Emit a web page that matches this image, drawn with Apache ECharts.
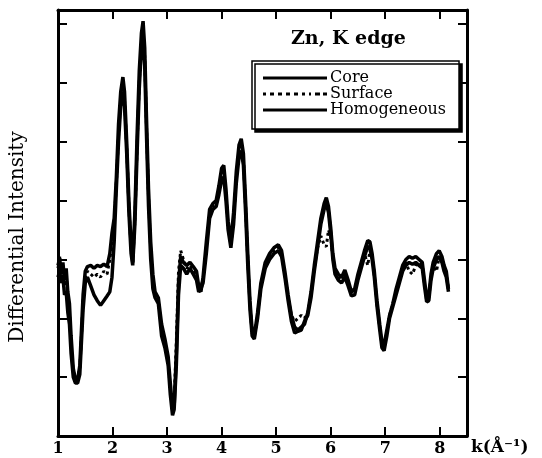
<!DOCTYPE html>
<html><head><meta charset="utf-8">
<script src="https://cdn.jsdelivr.net/npm/echarts@6/dist/echarts.min.js"></script>
<style>html,body{margin:0;padding:0;background:#fff}#c{width:542px;height:458px}</style>
</head><body><div id="c"></div>
<script>
const xTickLabels = ['1','2','3','4','5','6','7','8'];
const seriesNames = ['Core','Surface','Homogeneous'];

const coreData = [
[1.00,-0.10],[1.03,0.02],[1.06,-0.25],[1.09,-0.05],[1.12,-0.35],[1.15,-0.15],[1.18,-0.55],[1.21,-0.75],[1.24,-1.30],[1.28,-1.85],[1.32,-2.05],[1.36,-2.05],[1.40,-1.80],[1.43,-1.20],[1.46,-0.60],[1.50,-0.20],[1.54,-0.12],[1.60,-0.10],[1.66,-0.15],[1.72,-0.10],[1.78,-0.12],[1.84,-0.08],[1.90,-0.12],[1.95,0.10],[1.99,0.45],[2.03,0.70],[2.07,1.40],[2.11,2.30],[2.15,2.85],[2.19,3.10],[2.22,2.85],[2.26,2.00],[2.30,1.00],[2.34,0.25],[2.37,-0.05],[2.41,0.80],[2.45,2.10],[2.49,3.20],[2.53,3.85],[2.56,4.05],[2.59,3.60],[2.62,2.50],[2.66,1.20],[2.70,0.30],[2.74,-0.25],[2.78,-0.55],[2.84,-0.65],[2.90,-1.10],[2.96,-1.35],[3.02,-1.65],[3.06,-2.10],[3.10,-2.55],[3.13,-2.50],[3.17,-1.60],[3.21,-0.40],[3.25,0.05],[3.30,-0.05],[3.36,-0.10],[3.42,-0.05],[3.48,-0.12],[3.54,-0.20],[3.58,-0.45],[3.62,-0.55],[3.66,-0.30],[3.72,0.30],[3.78,0.85],[3.84,0.95],[3.90,1.00],[3.95,1.25],[4.00,1.55],[4.04,1.60],[4.08,1.20],[4.12,0.65],[4.17,0.30],[4.22,0.80],[4.27,1.50],[4.32,1.95],[4.36,2.05],[4.40,1.80],[4.44,1.00],[4.48,0.10],[4.52,-0.70],[4.56,-1.20],[4.60,-1.30],[4.66,-0.90],[4.72,-0.40],[4.80,-0.05],[4.88,0.10],[4.96,0.20],[5.04,0.25],[5.10,0.15],[5.16,-0.20],[5.22,-0.60],[5.28,-0.95],[5.34,-1.15],[5.40,-1.20],[5.46,-1.15],[5.52,-1.10],[5.58,-0.90],[5.64,-0.55],[5.70,-0.10],[5.76,0.30],[5.82,0.70],[5.88,0.95],[5.92,1.05],[5.96,0.90],[6.00,0.55],[6.04,0.10],[6.08,-0.15],[6.14,-0.25],[6.20,-0.30],[6.26,-0.18],[6.32,-0.35],[6.38,-0.55],[6.44,-0.50],[6.50,-0.25],[6.56,-0.05],[6.62,0.15],[6.68,0.32],[6.72,0.30],[6.76,0.10],[6.80,-0.20],[6.85,-0.70],[6.90,-1.10],[6.94,-1.40],[6.98,-1.45],[7.03,-1.20],[7.08,-0.95],[7.14,-0.75],[7.20,-0.50],[7.26,-0.30],[7.32,-0.10],[7.38,0.00],[7.44,0.05],[7.50,0.02],[7.56,0.05],[7.62,0.00],[7.68,-0.05],[7.72,-0.35],[7.76,-0.65],[7.80,-0.60],[7.84,-0.25],[7.88,-0.05],[7.94,0.10],[7.99,0.15],[8.04,0.05],[8.08,-0.10],[8.12,-0.20],[8.16,-0.50]
];

const surfaceData = [
[1.00,-0.15],[1.03,0.05],[1.06,-0.30],[1.09,-0.10],[1.12,-0.45],[1.15,-0.25],[1.18,-0.65],[1.21,-0.90],[1.24,-1.45],[1.28,-1.90],[1.32,-2.00],[1.36,-2.00],[1.40,-1.85],[1.43,-1.30],[1.46,-0.70],[1.50,-0.30],[1.54,-0.20],[1.60,-0.25],[1.66,-0.30],[1.72,-0.25],[1.78,-0.30],[1.84,-0.20],[1.90,-0.25],[1.95,0.00],[1.99,0.30],[2.03,0.60],[2.07,1.30],[2.11,2.10],[2.15,2.70],[2.19,2.95],[2.22,2.70],[2.26,1.90],[2.30,0.90],[2.34,0.20],[2.37,-0.05],[2.41,0.70],[2.45,1.90],[2.49,3.00],[2.53,3.70],[2.56,3.85],[2.59,3.45],[2.62,2.35],[2.66,1.05],[2.70,0.15],[2.74,-0.40],[2.78,-0.60],[2.84,-0.70],[2.90,-1.20],[2.96,-1.45],[3.02,-1.75],[3.06,-2.20],[3.10,-2.55],[3.13,-2.40],[3.17,-1.40],[3.21,-0.20],[3.25,0.15],[3.30,0.00],[3.36,-0.15],[3.42,-0.10],[3.48,-0.20],[3.54,-0.30],[3.58,-0.50],[3.62,-0.45],[3.66,-0.35],[3.72,0.20],[3.78,0.75],[3.84,0.90],[3.90,0.95],[3.95,1.20],[4.00,1.45],[4.04,1.50],[4.08,1.10],[4.12,0.55],[4.17,0.25],[4.22,0.70],[4.27,1.40],[4.32,1.85],[4.36,2.00],[4.40,1.70],[4.44,0.90],[4.48,0.00],[4.52,-0.75],[4.56,-1.25],[4.60,-1.35],[4.66,-0.95],[4.72,-0.45],[4.80,-0.10],[4.88,0.05],[4.96,0.15],[5.04,0.20],[5.10,0.10],[5.16,-0.25],[5.22,-0.65],[5.28,-0.95],[5.34,-1.05],[5.40,-1.00],[5.46,-0.95],[5.52,-1.00],[5.58,-0.90],[5.64,-0.60],[5.70,-0.15],[5.76,0.20],[5.82,0.40],[5.88,0.25],[5.92,0.22],[5.96,0.50],[6.00,0.40],[6.04,0.05],[6.08,-0.20],[6.14,-0.30],[6.20,-0.35],[6.26,-0.25],[6.32,-0.40],[6.38,-0.58],[6.44,-0.55],[6.50,-0.30],[6.56,-0.10],[6.62,0.10],[6.68,-0.10],[6.72,0.15],[6.76,0.05],[6.80,-0.25],[6.85,-0.75],[6.90,-1.15],[6.94,-1.45],[6.98,-1.50],[7.03,-1.25],[7.08,-0.95],[7.14,-0.75],[7.20,-0.55],[7.26,-0.35],[7.32,-0.15],[7.38,-0.05],[7.44,-0.20],[7.50,-0.25],[7.56,-0.10],[7.62,-0.05],[7.68,-0.10],[7.72,-0.40],[7.76,-0.70],[7.80,-0.65],[7.84,-0.30],[7.88,-0.10],[7.94,-0.20],[7.99,0.05],[8.04,0.00],[8.08,-0.15],[8.12,-0.25],[8.16,-0.50]
];

const homogeneousData = [
[1.00,-0.30],[1.03,-0.20],[1.06,-0.40],[1.09,-0.30],[1.12,-0.60],[1.15,-0.55],[1.18,-0.90],[1.21,-1.10],[1.24,-1.60],[1.28,-2.00],[1.32,-2.10],[1.36,-2.10],[1.40,-1.95],[1.43,-1.40],[1.46,-0.85],[1.50,-0.40],[1.54,-0.30],[1.60,-0.45],[1.66,-0.60],[1.72,-0.70],[1.78,-0.78],[1.84,-0.70],[1.90,-0.62],[1.95,-0.55],[1.99,-0.30],[2.03,0.30],[2.07,1.20],[2.11,2.00],[2.15,2.60],[2.19,2.85],[2.22,2.60],[2.26,1.80],[2.30,0.80],[2.34,0.10],[2.37,-0.10],[2.41,0.60],[2.45,1.80],[2.49,2.90],[2.53,3.60],[2.56,3.75],[2.59,3.30],[2.62,2.20],[2.66,0.90],[2.70,0.00],[2.74,-0.50],[2.78,-0.65],[2.84,-0.75],[2.90,-1.30],[2.96,-1.50],[3.02,-1.80],[3.06,-2.30],[3.10,-2.65],[3.13,-2.55],[3.17,-1.80],[3.21,-0.60],[3.25,-0.10],[3.30,-0.15],[3.36,-0.25],[3.42,-0.15],[3.48,-0.25],[3.54,-0.35],[3.58,-0.55],[3.62,-0.50],[3.66,-0.40],[3.72,0.10],[3.78,0.70],[3.84,0.85],[3.90,0.90],[3.95,1.10],[4.00,1.35],[4.04,1.40],[4.08,1.00],[4.12,0.50],[4.17,0.20],[4.22,0.60],[4.27,1.30],[4.32,1.75],[4.36,1.85],[4.40,1.60],[4.44,0.80],[4.48,-0.10],[4.52,-0.85],[4.56,-1.30],[4.60,-1.35],[4.66,-1.00],[4.72,-0.50],[4.80,-0.15],[4.88,0.00],[4.96,0.10],[5.04,0.15],[5.10,0.05],[5.16,-0.30],[5.22,-0.70],[5.28,-1.05],[5.34,-1.25],[5.40,-1.22],[5.46,-1.20],[5.52,-1.05],[5.58,-0.95],[5.64,-0.65],[5.70,-0.20],[5.76,0.20],[5.82,0.60],[5.88,0.85],[5.92,0.95],[5.96,0.80],[6.00,0.45],[6.04,0.00],[6.08,-0.25],[6.14,-0.35],[6.20,-0.40],[6.26,-0.30],[6.32,-0.45],[6.38,-0.62],[6.44,-0.60],[6.50,-0.35],[6.56,-0.15],[6.62,0.05],[6.68,0.22],[6.72,0.20],[6.76,0.00],[6.80,-0.30],[6.85,-0.80],[6.90,-1.20],[6.94,-1.50],[6.98,-1.55],[7.03,-1.30],[7.08,-1.00],[7.14,-0.80],[7.20,-0.60],[7.26,-0.40],[7.32,-0.20],[7.38,-0.10],[7.44,-0.05],[7.50,-0.08],[7.56,-0.05],[7.62,-0.10],[7.68,-0.15],[7.72,-0.45],[7.76,-0.72],[7.80,-0.70],[7.84,-0.35],[7.88,-0.15],[7.94,0.00],[7.99,0.05],[8.04,-0.05],[8.08,-0.20],[8.12,-0.30],[8.16,-0.55]
];

const serif = 'DejaVu Serif';
const chart = echarts.init(document.getElementById('c'), null, {renderer: 'canvas'});

function frameX(pos, showLabels) {
  return {
    type: 'value', min: 1, max: 8.5, interval: 1, position: pos,
    axisLine: {show: true, onZero: false, lineStyle: {color: '#000', width: 3}},
    axisTick: {show: true, inside: true, length: 9, lineStyle: {color: '#000', width: 2}},
    axisLabel: showLabels ? {
      show: true, margin: 5, color: '#000', fontFamily: serif, fontWeight: 'bold', fontSize: 16,
      formatter: v => Number.isInteger(v) ? (xTickLabels[v - 1] || '') : ''
    } : {show: false},
    splitLine: {show: false}
  };
}
function frameY(pos) {
  return {
    type: 'value', min: -3, max: 4.24, interval: 1, position: pos,
    axisLine: {show: true, onZero: false, lineStyle: {color: '#000', width: 3}},
    axisTick: {show: true, inside: true, length: 9, lineStyle: {color: '#000', width: 2}},
    axisLabel: {show: false},
    splitLine: {show: false}
  };
}

const xBottom = frameX('bottom', true);
xBottom.name = 'k(Å⁻¹)';
xBottom.nameLocation = 'end';
xBottom.nameGap = 4;
xBottom.nameTextStyle = {color: '#000', fontFamily: serif, fontWeight: 'bold', fontSize: 17, verticalAlign: 'top', padding: [3, 0, 0, 0]};

const yLeft = frameY('left');
yLeft.name = 'Differential Intensity';
yLeft.nameLocation = 'middle';
yLeft.nameGap = 30;
yLeft.nameTextStyle = {color: '#000', fontFamily: serif, fontSize: 20, padding: [0, 28, 0, 0]};

const datasets = [coreData, surfaceData, homogeneousData];
const styles = [
  {type: 'solid', width: 3.5},
  {type: 'dotted', width: 3},
  {type: 'solid', width: 3.5}
];
const order = [2, 1, 0];
const series = order.map(i => ({
  name: seriesNames[i], type: 'line', data: datasets[i],
  xAxisIndex: 0, yAxisIndex: 0,
  symbol: 'none', showSymbol: false, smooth: false,
  lineStyle: Object.assign({color: '#000'}, styles[i]),
  itemStyle: {color: '#000'},
  z: 3 + i
}));

const solidIcon = 'path://M0,0h64v3h-64z';
const dottedIcon = 'path://M0,0h3v3h-3z M7,0h4v3h-4z M15,0h4v3h-4z M23,0h4v3h-4z M31,0h4v3h-4z M39,0h3v3h-3z M46,0h2v3h-2z M52,0h5v3h-5z M60,0h4v3h-4z';

chart.setOption({
  animation: false,
  backgroundColor: '#fff',
  title: {
    text: 'Zn, K edge', left: 291, top: 30, padding: 0,
    textStyle: {fontFamily: serif, fontWeight: 'bold', fontSize: 19, color: '#000'}
  },
  legend: {
    data: [
      {name: 'Core', icon: solidIcon},
      {name: 'Surface', icon: dottedIcon},
      {name: 'Homogeneous', icon: solidIcon}
    ],
    orient: 'vertical', left: 252, top: 61,
    itemWidth: 64, itemHeight: 3, itemGap: 0,
    padding: [9, 13, 11, 11],
    backgroundColor: '#fff', borderColor: '#000', borderWidth: 1.5,
    shadowColor: '#000', shadowBlur: 0, shadowOffsetX: 3, shadowOffsetY: 3,
    itemStyle: {color: '#000', borderWidth: 0},
    textStyle: {fontFamily: serif, fontSize: 16, lineHeight: 15, color: '#000', padding: [0, 0, 0, -2]},
    selectedMode: false
  },
  grid: {left: 52, right: 75, top: 10, bottom: 22, containLabel: false},
  xAxis: [xBottom, frameX('top', false)],
  yAxis: [yLeft, frameY('right')],
  series: series
});
</script></body></html>
